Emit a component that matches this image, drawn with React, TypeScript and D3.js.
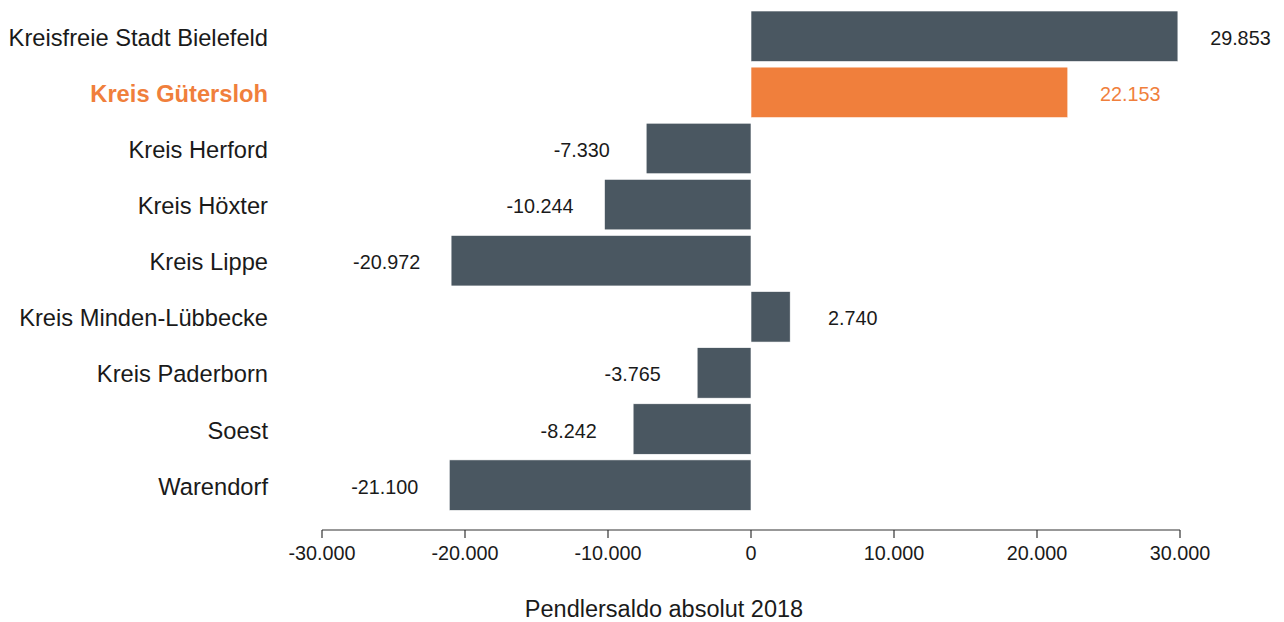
import React from "react";
import * as d3 from "d3";

const categories = [
  "Kreisfreie Stadt Bielefeld",
  "Kreis Gütersloh",
  "Kreis Herford",
  "Kreis Höxter",
  "Kreis Lippe",
  "Kreis Minden-Lübbecke",
  "Kreis Paderborn",
  "Soest",
  "Warendorf",
];
const values = [29853, 22153, -7330, -10244, -20972, 2740, -3765, -8242, -21100];
const highlight = "Kreis Gütersloh";
const tickValues = [-30000, -20000, -10000, 0, 10000, 20000, 30000];
const axisTitle = "Pendlersaldo absolut 2018";

const W = 1284;
const H = 622;
const FONT = "'Liberation Sans', Arial, sans-serif";
const BAR = "#4a5761";
const ORANGE = "#f07f3c";
const TEXT = "#1a1a1a";

const fmt = (v: number) => {
  const s = Math.abs(v).toString().replace(/\B(?=(\d{3})+(?!\d))/g, ".");
  return (v < 0 ? "-" : "") + s;
};

export default function App() {
  const x = d3.scaleLinear().domain([-30000, 30000]).range([322, 1180]);
  const y = d3.scaleBand<string>().domain(categories).range([5.4, 516]).padding(0.1);
  const axisY = 530;
  return (
    <svg width={W} height={H} style={{ position: "absolute", left: 0, top: 0, background: "#fff" }} fontFamily={FONT}>
      {categories.map((c, i) => {
        const v = values[i];
        const isH = c === highlight;
        const col = isH ? ORANGE : BAR;
        const y0 = y(c)!;
        const bw = y.bandwidth();
        const cy = y0 + bw / 2 + 1.5;
        const x0 = x(Math.min(0, v));
        const x1 = x(Math.max(0, v));
        return (
          <g key={c}>
            <rect x={x0} y={y0} width={x1 - x0} height={bw} fill={col} stroke="#ffffff" strokeWidth={0.6} />
            <text
              x={268}
              y={cy}
              textAnchor="end"
              dominantBaseline="central"
              fontSize={23.7}
              fontWeight={isH ? "bold" : "normal"}
              fill={isH ? ORANGE : TEXT}
            >
              {c}
            </text>
            <text
              x={v >= 0 ? x1 + 62.5 : x0 - 64.5}
              y={cy}
              textAnchor="middle"
              dominantBaseline="central"
              fontSize={19.8}
              fill={isH ? ORANGE : TEXT}
            >
              {fmt(v)}
            </text>
          </g>
        );
      })}
      <line x1={x(-30000)} x2={x(30000)} y1={axisY} y2={axisY} stroke="#333" strokeWidth={1.2} />
      {tickValues.map((t) => (
        <g key={t}>
          <line x1={x(t)} x2={x(t)} y1={axisY} y2={axisY + 8} stroke="#333" strokeWidth={1.2} />
          <text x={x(t)} y={axisY + 30} textAnchor="middle" fontSize={19.8} fill={TEXT}>
            {fmt(t)}
          </text>
        </g>
      ))}
      <text x={664} y={617} textAnchor="middle" fontSize={23.5} fill={TEXT}>
        {axisTitle}
      </text>
    </svg>
  );
}
